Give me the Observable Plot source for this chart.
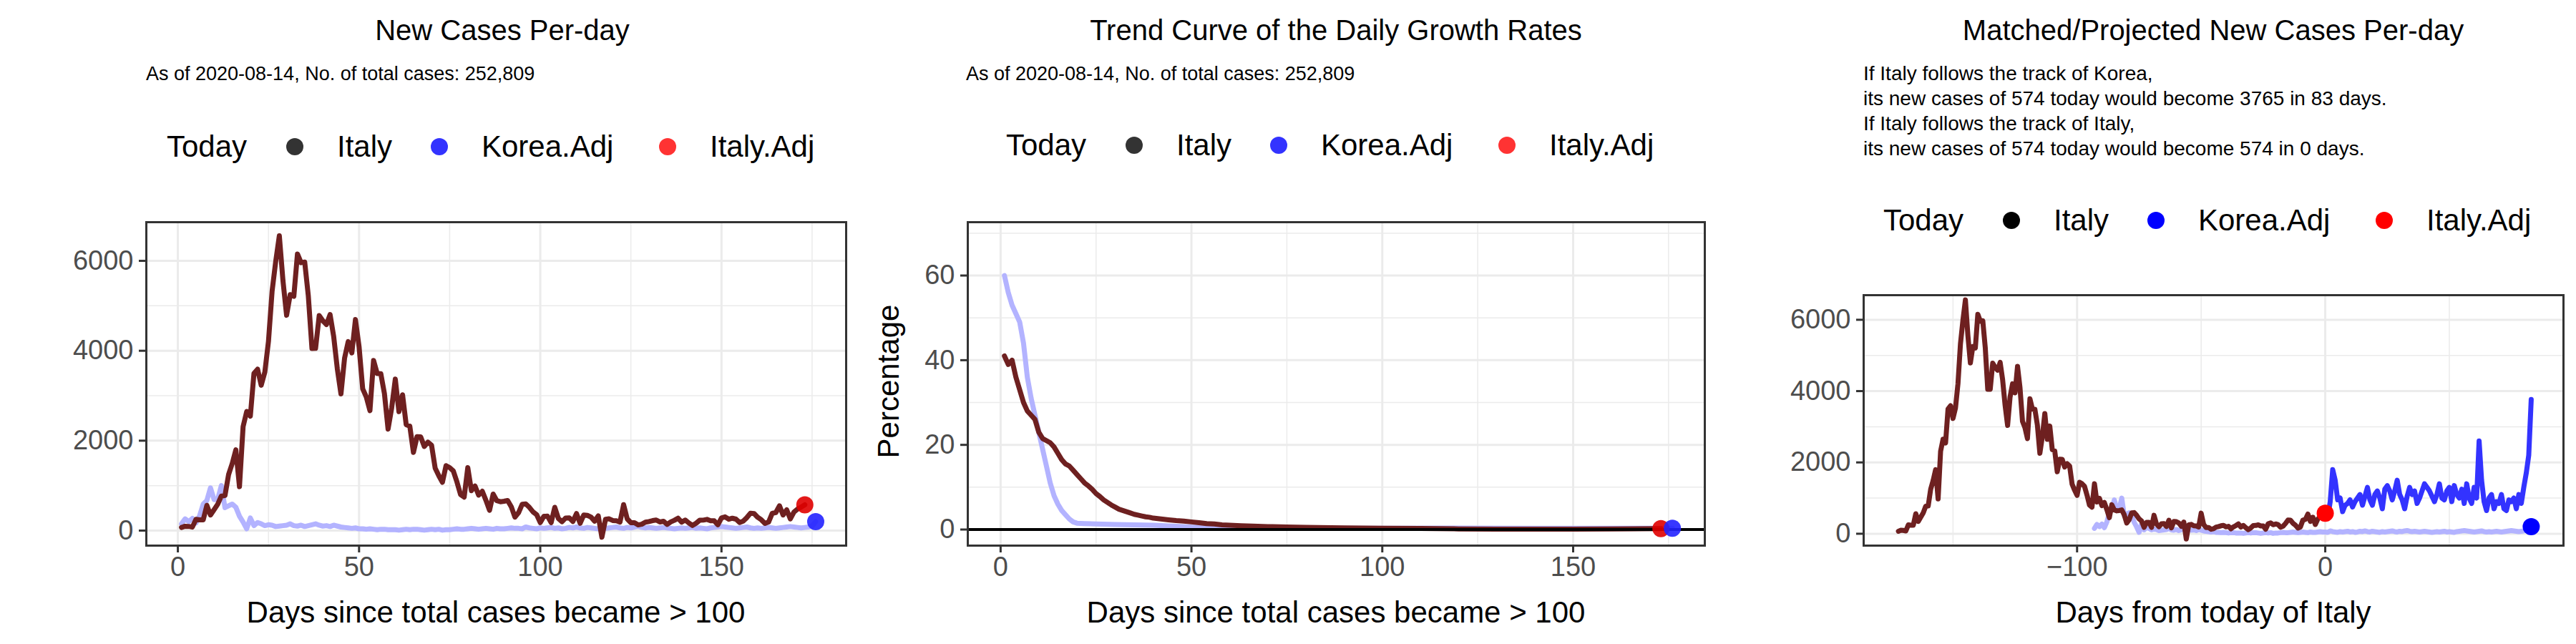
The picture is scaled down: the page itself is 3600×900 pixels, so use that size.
<!DOCTYPE html>
<html>
<head>
<meta charset="utf-8">
<script src="https://cdn.jsdelivr.net/npm/d3@7"></script>
<script src="https://cdn.jsdelivr.net/npm/@observablehq/plot@0.6"></script>
<style>
  body { margin: 0; background: #fff; font-family: "Liberation Sans", Arial, sans-serif; }
  #page { position: relative; width: 3600px; height: 900px; overflow: hidden; }
  .t { position: absolute; white-space: nowrap; transform: translateY(-50%); color: #000; }
  .dot { position: absolute; width: 24px; height: 24px; border-radius: 50%; transform: translate(-50%, -50%); }
  .plot { position: absolute; top: 280px; }
</style>
</head>
<body>
<div id="page"></div>
<script>
// Italy new cases per day, day 1 .. 173 (2020-08-14)
const italyNew = [
  69, 97, 93, 78, 250, 238,
  240, 561, 347, 466, 587, 769, 778, 1247, 1492, 1797, 977, 2313, 2651, 2547, 3497, 3590, 3233, 3526, 4207, 5322, 5986, 6557, 5560, 4789, 5249, 5210, 6153, 5959, 5974, 5217, 4050,
  4053, 4782, 4668, 4585, 4805, 4316, 3599, 3039, 3836, 4204, 3951, 4694, 4092, 3153, 2972, 2667, 3786, 3493, 3491, 3047, 2256, 2729, 3370, 2646, 3021, 2357, 2324, 1739, 2091, 2086,
  1872, 1965, 1900, 1389, 1221, 1075, 1444, 1401, 1327, 1083, 802, 744, 1402, 888, 992, 789, 875, 675, 451, 813, 665, 642, 652, 669, 531, 300, 397, 584, 593, 516, 416,
  355, 178, 318, 321, 177, 518, 270, 197, 280, 283, 202, 379, 163, 346, 338, 301, 210, 328, -148, 251, 262, 224, 218, 190, 577, 259, 175, 174, 126, 142,
  187, 201, 223, 235, 192, 208, 138, 193, 229, 276, 188, 234, 169, 114, 163, 230, 233, 249, 219, 218, 129, 280, 306, 252, 275, 255, 181, 212, 289, 386, 379,
  295, 239, 159, 190, 384, 402, 552, 347, 463, 259, 412, 481, 523, 574
];
// Korea (adjusted) new cases per day, day 1 .. 176
const koreaNew = [
  150, 260, 200, 270, 170, 330, 590, 670, 950, 690, 700, 1000, 510, 550, 590, 520, 320, 190, 40, 280,
  110, 180, 150, 110, 130, 120, 90, 100, 110, 120, 150, 110, 100, 120, 90, 110, 130, 150, 120, 100,
  110, 90, 120, 100, 80, 70, 60, 50, 60, 40, 40, 30, 40, 30, 20, 30, 30, 20, 20, 20,
  10, 20, 30, 20, 30, 30, 20, 10, 20, 30, 20, 30, 10, 20, 20, 30, 40, 30, 30, 40,
  50, 40, 30, 40, 50, 40, 30, 50, 40, 40, 50, 60, 50, 50, 40, 80, 60, 50, 40, 60,
  50, 60, 70, 50, 60, 40, 50, 70, 60, 80, 60, 50, 70, 60, 50, 40, 60, 50, 60, 70,
  80, 60, 50, 70, 60, 80, 90, 70, 60, 70, 60, 50, 60, 70, 60, 50, 40, 50, 60, 50,
  60, 70, 50, 60, 50, 40, 60, 70, 80, 90, 80, 70, 60, 50, 60, 70, 80, 60, 50, 60,
  50, 60, 70, 60, 50, 60, 70, 80, 90, 80, 70, 60, 70, 80, 100, 200
];
// projected Italy new cases following Korea's track, days 0 .. 83
const projected = [
  574, 450, 900, 1800, 1500, 950, 1000, 620, 800, 850,
  950, 750, 900, 1000, 1100, 800, 1050, 1300, 950, 800,
  1100, 1200, 1000, 700, 1250, 1350, 1200, 950, 1200, 1500,
  1100, 950, 700, 1050, 1300, 1100, 1200, 850, 1000, 1200,
  1400, 1300, 1200, 1050, 900, 1100, 1400, 1000, 950, 1200,
  1300, 900, 1350, 1100, 1000, 1250, 850, 1400, 1000, 850,
  1300, 1000, 2600, 1500, 900, 650, 1000, 1100, 700, 900,
  850, 1100, 700, 650, 950, 900, 1000, 700, 1100, 850,
  1300, 1700, 2200, 3765
];
// daily growth rate trend (%), [day, value]
const italyGrowth = [
  [1, 41], [2, 39], [3, 40], [4, 36], [5, 33], [6, 30], [7, 28], [8, 27], [9, 26], [10, 23],
  [11, 21.5], [12, 21], [13, 20.5], [14, 19.5], [15, 18], [16, 16.5], [17, 15.5], [18, 15], [19, 14], [20, 13],
  [21, 12], [22, 11], [23, 10.3], [24, 9.5], [25, 8.5], [26, 7.8], [27, 7], [28, 6.4], [29, 5.8], [30, 5.3],
  [31, 4.8], [32, 4.5], [33, 4.2], [34, 3.9], [35, 3.6], [36, 3.4], [37, 3.2], [38, 3.0], [39, 2.9], [40, 2.7],
  [42, 2.5], [44, 2.3], [46, 2.1], [48, 2.0], [50, 1.8], [52, 1.6], [54, 1.4], [56, 1.3], [58, 1.1], [60, 1.0],
  [63, 0.9], [66, 0.8], [70, 0.7], [75, 0.6], [80, 0.5], [90, 0.4], [100, 0.3], [110, 0.25], [120, 0.15],
  [130, 0.1], [140, 0.1], [150, 0.1], [160, 0.15], [173, 0.2]
];
const koreaGrowth = [
  [1, 60], [2, 56], [3, 53], [4, 51], [5, 49], [6, 44], [7, 36], [8, 31], [9, 27], [10, 23],
  [11, 19], [12, 15], [13, 11], [14, 8], [15, 6], [16, 4.5], [17, 3.5], [18, 2.5], [19, 1.8], [20, 1.5],
  [22, 1.4], [25, 1.3], [30, 1.2], [35, 1.1], [40, 1.0], [45, 0.8], [50, 0.6], [60, 0.4], [70, 0.3],
  [80, 0.3], [100, 0.3], [120, 0.35], [140, 0.3], [160, 0.3], [176, 0.3]
];
const todayDay = 173;
const koreaShift = 94;

const italyRows = italyNew.map((v, i) => ({x: i + 1, y: v}));
const koreaRows = koreaNew.map((v, i) => ({x: i + 1, y: v}));
const projRows = projected.map((v, i) => ({x: i, y: v}));

const ITALY = "#6e2020", KOREA_LIGHT = "#b3b3ff", BLUE = "#3333ff";
const page = document.getElementById("page");

function add(html) { page.insertAdjacentHTML("beforeend", html); }

function legend(left, top, pure) {
  const c = pure ? ["#000", "#0000ff", "#ff0000"] : ["#333", "#3333ff", "#ff3333"];
  add(`<div class="t" style="left:${left}px;top:${top}px;font-size:42px">Today</div>`);
  [["Italy", 179, 238], ["Korea.Adj", 381, 440], ["Italy.Adj", 700, 759]].forEach(([lab, d, t], i) => {
    add(`<div class="dot" style="left:${left + d}px;top:${top}px;background:${c[i]}"></div>`);
    add(`<div class="t" style="left:${left + t}px;top:${top}px;font-size:42px">${lab}</div>`);
  });
}

function grid(xMaj, xMin, yMaj, yMin) {
  return [
    Plot.ruleX(xMin, {stroke: "#ebebeb", strokeWidth: 1.5}),
    Plot.ruleY(yMin, {stroke: "#ebebeb", strokeWidth: 1.5}),
    Plot.ruleX(xMaj, {stroke: "#ebebeb", strokeWidth: 3}),
    Plot.ruleY(yMaj, {stroke: "#ebebeb", strokeWidth: 3})
  ];
}

function axes(xTicks, yTicks) {
  return [
    Plot.axisX(xTicks, {tickSize: 10, tickPadding: 6, fontSize: 38, fill: "#4d4d4d", stroke: "#333", strokeWidth: 3, label: null}),
    Plot.axisY(yTicks, {tickSize: 10, tickPadding: 8, fontSize: 38, fill: "#4d4d4d", stroke: "#333", strokeWidth: 3, label: null, tickFormat: d => String(d)}),
    Plot.frame({stroke: "#333", strokeWidth: 3})
  ];
}

function place(svg, left) {
  const div = document.createElement("div");
  div.className = "plot";
  div.style.left = left + "px";
  div.appendChild(svg);
  page.appendChild(div);
}

const common = {width: 1200, height: 620, marginTop: 30, marginBottom: 138, marginRight: 18, style: {fontFamily: "Liberation Sans, Arial, sans-serif", overflow: "visible"}};

// Panel 1
add(`<div class="t" style="left:0;width:1200px;padding-left:204px;box-sizing:border-box;text-align:center;top:42px;font-size:40px">New Cases Per-day</div>`);
add(`<div class="t" style="left:204px;top:103px;font-size:27px">As of 2020-08-14, No. of total cases: 252,809</div>`);
legend(233, 205, false);
place(Plot.plot({
  ...common, marginLeft: 204,
  x: {domain: [-8.7, 184.4]}, y: {domain: [-334, 6860]},
  marks: [
    ...grid([0, 50, 100, 150], [25, 75, 125, 175], [0, 2000, 4000, 6000], [1000, 3000, 5000]),
    Plot.line(koreaRows, {x: "x", y: "y", stroke: KOREA_LIGHT, strokeWidth: 7}),
    Plot.line(italyRows, {x: "x", y: "y", stroke: ITALY, strokeWidth: 7}),
    Plot.dot([italyRows[italyRows.length - 1]], {x: "x", y: "y", r: 12, fill: "#e00000", fillOpacity: 0.9}),
    Plot.dot([koreaRows[koreaRows.length - 1]], {x: "x", y: "y", r: 12, fill: "#2222ff", fillOpacity: 0.9}),
    ...axes([0, 50, 100, 150], [0, 2000, 4000, 6000])
  ]
}), 0);
add(`<div class="t" style="left:204px;width:978px;text-align:center;top:856px;font-size:42px">Days since total cases became &gt; 100</div>`);

// Panel 2
add(`<div class="t" style="left:1352px;width:1030px;text-align:center;top:42px;font-size:40px">Trend Curve of the Daily Growth Rates</div>`);
add(`<div class="t" style="left:1350px;top:103px;font-size:27px">As of 2020-08-14, No. of total cases: 252,809</div>`);
legend(1406, 203, false);
place(Plot.plot({
  ...common, marginLeft: 152,
  x: {domain: [-8.6, 184.5]}, y: {domain: [-3.8, 72.6]},
  marks: [
    ...grid([0, 50, 100, 150], [25, 75, 125, 175], [0, 20, 40, 60], [10, 30, 50, 70]),
    Plot.line(koreaGrowth, {x: d => d[0], y: d => d[1], stroke: KOREA_LIGHT, strokeWidth: 7}),
    Plot.line(italyGrowth, {x: d => d[0], y: d => d[1], stroke: ITALY, strokeWidth: 7}),
    Plot.ruleY([0], {stroke: "#000", strokeWidth: 4}),
    Plot.dot([italyGrowth[italyGrowth.length - 1]], {x: d => d[0], y: d => d[1], r: 12, fill: "#e00000", fillOpacity: 0.9}),
    Plot.dot([koreaGrowth[koreaGrowth.length - 1]], {x: d => d[0], y: d => d[1], r: 12, fill: "#2222ff", fillOpacity: 0.9}),
    ...axes([0, 50, 100, 150], [0, 20, 40, 60])
  ]
}), 1200);
add(`<div class="t" style="left:1352px;width:1030px;text-align:center;top:856px;font-size:42px">Days since total cases became &gt; 100</div>`);
add(`<div style="position:absolute;left:1242px;top:533px;transform:translate(-50%,-50%) rotate(-90deg);font-size:42px;white-space:nowrap">Percentage</div>`);

// Panel 3
add(`<div class="t" style="left:2604px;width:978px;text-align:center;top:42px;font-size:40px">Matched/Projected New Cases Per-day</div>`);
["If Italy follows the track of Korea,",
 "its new cases of 574 today would become 3765 in 83 days.",
 "If Italy follows the track of Italy,",
 "its new cases of 574 today would become 574 in 0 days."].forEach((s, i) => {
  add(`<div class="t" style="left:2604px;top:${103 + i * 35}px;font-size:28px">${s}</div>`);
});
legend(2632, 308, true);
place(Plot.plot({
  ...common, marginLeft: 204, marginTop: 132,
  x: {domain: [-186, 96]}, y: {domain: [-333, 6690]},
  marks: [
    ...grid([-100, 0], [-150, -50, 50], [0, 2000, 4000, 6000], [1000, 3000, 5000]),
    Plot.line(koreaRows, {x: d => d.x - koreaShift, y: "y", stroke: KOREA_LIGHT, strokeWidth: 7}),
    Plot.line(italyRows, {x: d => d.x - todayDay, y: "y", stroke: ITALY, strokeWidth: 7}),
    Plot.line(projRows, {x: "x", y: "y", stroke: BLUE, strokeWidth: 7}),
    Plot.dot([{x: 0, y: italyNew[italyNew.length - 1]}], {x: "x", y: "y", r: 12, fill: "#ff0000"}),
    Plot.dot([{x: projected.length - 1, y: koreaNew[koreaNew.length - 1]}], {x: "x", y: "y", r: 12, fill: "#0000ff"}),
    ...axes([-100, 0], [0, 2000, 4000, 6000])
  ]
}), 2400);
add(`<div class="t" style="left:2604px;width:978px;text-align:center;top:856px;font-size:42px">Days from today of Italy</div>`);
</script>
</body>
</html>
